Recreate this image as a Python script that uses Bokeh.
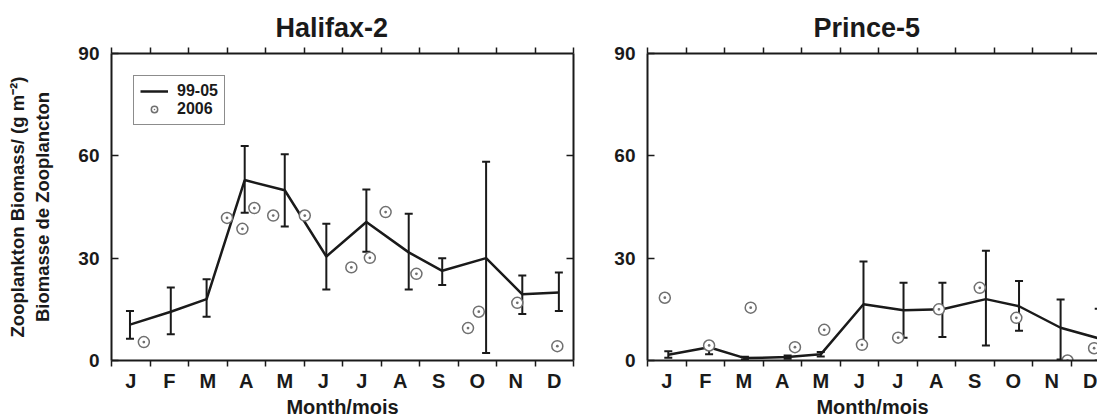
from bokeh.plotting import figure
from bokeh.layouts import row
from bokeh.models import (ColumnDataSource, Whisker, TeeHead, FixedTicker, LinearAxis,
                          Legend, LegendItem, Range1d, CustomJSTickFormatter)
from bokeh.embed import file_html
from bokeh.resources import INLINE

# ---------------- data ----------------
months = ["J", "F", "M", "A", "M", "J", "J", "A", "S", "O", "N", "D"]
y_ticks = [0, 30, 60, 90]

# Halifax-2 : 1999-2005 mean with range, and 2006 observations
hal_x = [0.48, 1.54, 2.47, 3.46, 4.50, 5.58, 6.62, 7.72, 8.59, 9.73, 10.67, 11.62]
hal_mean = [10.5, 14.3, 18.0, 52.9, 49.9, 30.5, 40.6, 31.7, 26.3, 30.0, 19.4, 19.9]
hal_hi = [14.5, 21.4, 23.8, 62.9, 60.5, 40.1, 50.1, 43.0, 30.0, 58.3, 24.9, 25.8]
hal_lo = [6.4, 7.7, 12.8, 43.3, 39.3, 20.8, 31.9, 20.8, 22.1, 2.2, 13.6, 14.5]
hal06_x = [0.84, 3.00, 3.40, 3.71, 4.20, 5.02, 6.23, 6.71, 7.12, 7.92, 9.26, 9.54, 10.54, 11.58]
hal06_y = [5.4, 41.8, 38.6, 44.7, 42.5, 42.5, 27.3, 30.1, 43.5, 25.4, 9.5, 14.3, 16.9, 4.2]

# Prince-5
pr_x = [0.54, 1.60, 2.53, 3.64, 4.50, 5.61, 6.65, 7.66, 8.79, 9.65, 10.73, 11.72]
pr_mean = [1.7, 3.9, 0.7, 1.0, 1.8, 16.5, 14.7, 15.0, 18.0, 15.9, 9.6, 6.5]
pr_hi = [2.7, 4.9, 1.1, 1.5, 2.5, 29.0, 22.8, 22.8, 32.2, 23.3, 17.9, 15.2]
pr_lo = [0.8, 1.8, 0.3, 0.5, 1.2, 4.4, 6.7, 6.9, 4.4, 8.7, 0.3, 0.0]
pr06_x = [0.45, 1.60, 2.68, 3.83, 4.59, 5.57, 6.51, 7.57, 8.63, 9.58, 10.91, 11.60]
pr06_y = [18.4, 4.4, 15.5, 3.9, 9.0, 4.6, 6.7, 15.0, 21.3, 12.5, 0.0, 3.6]

FONT = "Liberation Sans"
INK = "#1a1a1a"
month_fmt = CustomJSTickFormatter(args=dict(months=months),
                                  code="return months[Math.floor(tick)] || '';")
blank_fmt = CustomJSTickFormatter(code="return '';")


def axis_common(ax):
    ax.axis_line_width = 2
    ax.axis_line_color = INK
    ax.major_tick_line_width = 1.5
    ax.major_tick_line_color = INK
    ax.minor_tick_line_width = 1.5
    ax.minor_tick_line_color = INK
    ax.major_label_text_font = FONT
    ax.major_label_text_font_style = "bold"
    ax.major_label_text_color = INK
    ax.axis_label_text_font = FONT
    ax.axis_label_text_font_style = "bold"
    ax.axis_label_text_color = INK


def make_panel(title, title_offset, width, border_left, border_right, x_end,
               xs, mean, hi, lo, x06, y06, ylabel, right_spine, legend):
    p = figure(width=width, height=420, x_range=Range1d(0, x_end), y_range=Range1d(0, 90),
               output_backend="svg", toolbar_location=None,
               x_axis_location=None, y_axis_location=None,
               min_border_left=border_left, min_border_right=border_right,
               min_border_top=53, min_border_bottom=60,
               title=title)
    p.outline_line_color = None
    p.grid.visible = False
    p.background_fill_color = "white"
    p.border_fill_color = "white"
    p.title.align = "left"
    p.title.offset = title_offset
    p.title.text_font = FONT
    p.title.text_font_style = "bold"
    p.title.text_font_size = "27px"
    p.title.text_color = INK

    # bottom axis: month letters centred, tick marks at month boundaries
    xb = LinearAxis(ticker=FixedTicker(ticks=[i + 0.5 for i in range(12)],
                                       minor_ticks=list(range(13))),
                    formatter=month_fmt)
    axis_common(xb)
    xb.major_tick_in = 0
    xb.major_tick_out = 0
    xb.minor_tick_in = 0
    xb.minor_tick_out = 6
    xb.major_label_text_font_size = "20px"
    xb.major_label_standoff = 3
    xb.axis_label = "Month/mois"
    xb.axis_label_text_font_size = "20px"
    xb.axis_label_standoff = 1
    p.add_layout(xb, "below")

    # top axis: ticks only, pointing out
    xt = LinearAxis(ticker=FixedTicker(ticks=list(range(13))), formatter=blank_fmt)
    axis_common(xt)
    xt.major_tick_in = 0
    xt.major_tick_out = 6
    xt.major_label_text_font_size = "0px"
    xt.major_label_standoff = 0
    p.add_layout(xt, "above")

    # left axis
    yl = LinearAxis(ticker=FixedTicker(ticks=y_ticks))
    axis_common(yl)
    yl.major_tick_in = 7
    yl.major_tick_out = 0
    yl.major_label_text_font_size = "19px"
    yl.major_label_standoff = 12
    if ylabel:
        yl.axis_label = ylabel
        yl.axis_label_text_font_size = "18.5px"
        yl.axis_label_standoff = 22
    p.add_layout(yl, "left")

    if right_spine:
        yr = LinearAxis(ticker=FixedTicker(ticks=[30, 60]), formatter=blank_fmt)
        axis_common(yr)
        yr.major_tick_in = 7
        yr.major_tick_out = 0
        yr.major_label_text_font_size = "0px"
        yr.major_label_standoff = 0
        p.add_layout(yr, "right")

    src = ColumnDataSource(dict(x=xs, mean=mean, hi=hi, lo=lo))
    w = Whisker(base="x", upper="hi", lower="lo", source=src, dimension="height",
                line_width=2, line_color=INK,
                upper_head=TeeHead(size=8, line_width=2, line_color=INK),
                lower_head=TeeHead(size=8, line_width=2, line_color=INK))
    p.add_layout(w)
    ln = p.line("x", "mean", source=src, line_width=2.5, line_color=INK)
    sc = p.scatter(x06, y06, marker="circle_dot", size=11, line_color="#707070",
                   line_width=1.5, fill_color="white")

    if legend:
        lg = Legend(items=[LegendItem(label="99-05", renderers=[ln]),
                           LegendItem(label="2006", renderers=[sc])],
                    location=(22, 235), orientation="vertical")
        lg.border_line_color = INK
        lg.border_line_width = 1.5
        lg.background_fill_color = "white"
        lg.background_fill_alpha = 1
        lg.label_text_font = FONT
        lg.label_text_font_style = "bold"
        lg.label_text_font_size = "16px"
        lg.label_text_color = INK
        lg.glyph_width = 28
        lg.glyph_height = 16
        lg.label_height = 16
        lg.label_standoff = 9
        lg.spacing = 0
        lg.padding = 6
        lg.margin = 0
        p.add_layout(lg, "center")
    return p


p1 = make_panel("Halifax-2", 164, 583, 111, 10, 12,
                hal_x, hal_mean, hal_hi, hal_lo, hal06_x, hal06_y,
                "Zooplankton Biomass/ (g m\u207b\u00b2)\nBiomasse de Zooplancton", True, True)
p2 = make_panel("Prince-5", 166, 514, 64, 0, 450 / 38.5,
                pr_x, pr_mean, pr_hi, pr_lo, pr06_x, pr06_y,
                None, False, False)

layout = row(p1, p2, spacing=0)
open("out.html", "w").write(file_html(layout, INLINE))
